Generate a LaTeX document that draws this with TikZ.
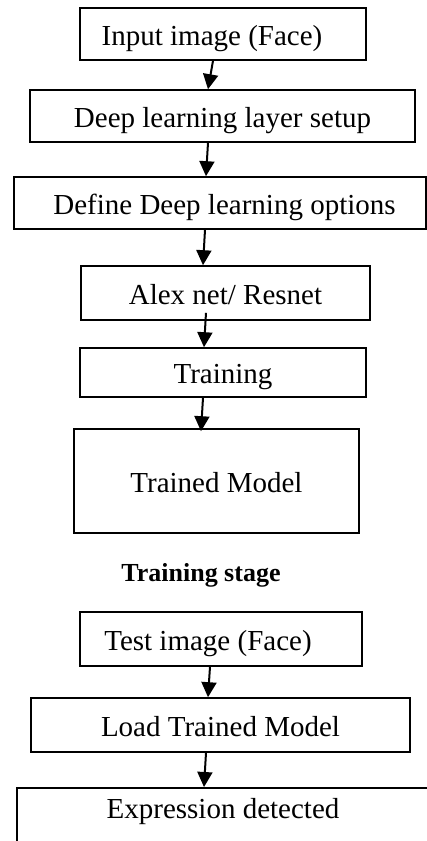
\documentclass[tikz,border=0pt]{standalone}
\usepackage{fontspec}
\setmainfont{Liberation Serif}
\usetikzlibrary{arrows.meta}
\tikzset{
	stagebox/.style={draw, line width=1.6pt, inner sep=0pt, text height=26pt, text depth=4pt, font=\fontsize{29}{34}\selectfont},
	flowarrow/.style={line width=2pt, -{Triangle[width=15pt,length=15pt]}}
}
\begin{document}
\begin{tikzpicture}[x=1pt,y=-1pt]
	\useasboundingbox (0,0) rectangle (427,841);
	% training
	\node[stagebox, minimum width=286pt, minimum height=52pt] (input) at (223,34) {Input image (Face)\hspace*{22pt}};
	\node[stagebox, minimum width=385pt, minimum height=52pt] (layer) at (222.5,116) {Deep learning layer setup};
	\node[stagebox, minimum width=412pt, minimum height=52pt] (options) at (220,203) {\hspace*{9pt}Define Deep learning options};
	\node[stagebox, minimum width=289pt, minimum height=54pt] (alex) at (225.5,293) {Alex net/ Resnet};
	\node[stagebox, minimum width=286pt, minimum height=49pt] (train) at (223,372.5) {Training};
	\node[stagebox, minimum width=285pt, minimum height=104pt] (model) at (216.5,481) {Trained Model};
	\node[font=\fontsize{26}{30}\selectfont\bfseries] (stage) at (201,575) {Training stage};
	% testing
	\node[stagebox, minimum width=282pt, minimum height=54pt] (test) at (221,639) {Test image (Face)\hspace*{26pt}};
	\node[stagebox, minimum width=379pt, minimum height=54pt] (load) at (220.5,725) {Load Trained Model};
	\node[stagebox, minimum width=420pt, text height=31pt, text depth=60pt, anchor=north] (expr) at (227,787) {Expression detected\hspace*{8pt}};
	
	\draw[flowarrow] ([xshift=-10pt]input.south) -- ([xshift=-14.5pt]layer.north);
	\draw[flowarrow] ([xshift=-14.5pt]layer.south) -- ([xshift=-14pt]options.north);
	\draw[flowarrow] ([xshift=-15pt]options.south) -- ([xshift=-22.5pt]alex.north);
	\draw[flowarrow] ([xshift=-19.5pt,yshift=8pt]alex.south) -- ([xshift=-19pt]train.north);
	\draw[flowarrow] ([xshift=-20pt]train.south) -- ([xshift=-15.5pt,yshift=-3pt]model.north);
	\draw[flowarrow] ([xshift=-11pt]test.south) -- ([xshift=-12.5pt]load.north);
	\draw[flowarrow] ([xshift=-14.5pt]load.south) -- ([xshift=-23pt]expr.north);
\end{tikzpicture}
\end{document}
